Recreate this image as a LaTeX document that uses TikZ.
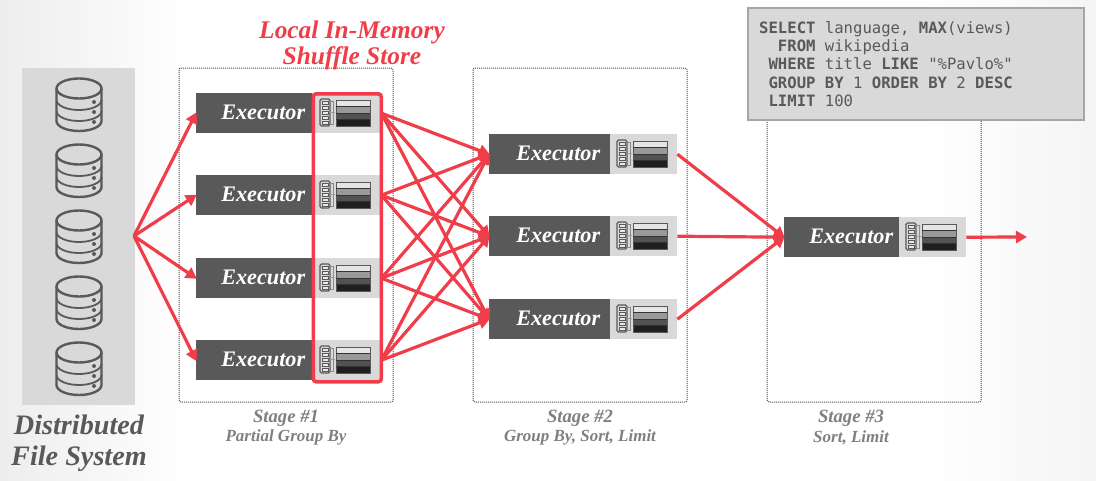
\documentclass[tikz,border=0pt]{standalone}
\usepackage{fontspec}
\setmainfont{Liberation Serif}
\setmonofont{DejaVu Sans Mono}
\usetikzlibrary{arrows.meta}
\definecolor{rd}{HTML}{EF3E4A}
\definecolor{dk}{HTML}{595959}
\definecolor{lt}{HTML}{D9D9D9}
\definecolor{stg}{HTML}{7F7F7F}
\tikzset{
  x=1pt,y=-1pt,
  execbox/.style={draw=none,fill=dk,text=white,minimum height=40pt,inner xsep=0pt,inner ysep=0pt,anchor=north west,
    font=\fontsize{22.2}{24}\selectfont\bfseries\itshape,align=left},
  storebox/.style={fill=lt,minimum height=40pt,minimum width=#1,inner sep=0pt,anchor=north west},
  flow/.style={draw=rd,line width=3.2pt,-{Triangle[length=11pt,width=12pt]},shorten >=-1pt},
  stagebox/.style={draw=black!70,line width=1pt,dash pattern=on 1pt off 1pt},
  stagetitle/.style={text=stg,font=\fontsize{18.7}{20}\selectfont\bfseries\itshape,inner sep=0pt},
  stagesub/.style={text=stg,font=\fontsize{17}{18}\selectfont\bfseries\itshape,inner sep=0pt},
  dbline/.style={draw=dk,line width=2.4pt},
  pics/dbicon/.style={code={
    \draw[dbline] (-22.5,-16.5) -- (-22.5,16) arc[start angle=180,end angle=360,x radius=22.5,y radius=-10] -- (22.5,-16.5);
    \draw[dbline] (0,-16.5) ellipse[x radius=22.5,y radius=10];
    \foreach \yy in {-5,6} {\draw[dbline,line width=1.8pt] (-22.5,\yy) arc[start angle=180,end angle=360,x radius=22.5,y radius=-10];}
    \foreach \yy in {-3,7,17} {\fill[dk] (15,\yy) circle[radius=2];}
  }},
  pics/storeicon/.style={code={
    \draw[dk,fill=lt,line width=1.2pt,rounded corners=1.5pt] (0,0) rectangle (10,27);
    \foreach \yy in {2,7,12,17,22} {\fill[lt!60!white] (1.9,\yy) rectangle (8.1,\yy+3.5); \draw[dk,line width=.5pt] (1.9,\yy) rectangle (8.1,\yy+3.5);}
    \draw[dk!70,line width=.8pt] (10,2) -- (13,2) -- (13,25) -- (10,25);
    \draw[dk!60,line width=.7pt] (10,13.5) -- (15,13.5);
    \fill[black!10] (16,1) rectangle (50,7.5);
    \fill[black!40] (16,7.5) rectangle (50,14);
    \fill[black!68] (16,14) rectangle (50,20.5);
    \fill[black!88] (16,20.5) rectangle (50,27);
    \draw[dk,line width=1pt] (16,1) rectangle (50,27);
    \foreach \yy in {7.5,14,20.5} {\draw[black!80,line width=.7pt] (16,\yy) -- (50,\yy);}
  }},
}
\newcommand{\extext}[1]{\raisebox{1pt}{\hbox to \linewidth{\hfill Executor\hspace*{#1pt}}}}
\begin{document}
\begin{tikzpicture}
\useasboundingbox (0,0) rectangle (1096,480);
% page tone
\shade[left color=black!7,right color=white,draw=none] (0,0) rectangle (190,480);
\shade[left color=white,right color=black!4,draw=none] (920,0) rectangle (1096,480);
% stages
\draw[stagebox,rounded corners=2pt] (179,68) rectangle (393,402);
\draw[stagebox,rounded corners=2pt] (473,68) rectangle (687,402);
\draw[stagebox,rounded corners=2pt] (767,68) rectangle (981,402);
% file system
\fill[lt] (22,68) rectangle (135,405);
\foreach \i/\yc in {1/105,2/171,3/237,4/303,5/369} {\pic (db\i) at (79,\yc) {dbicon};}
\coordinate (src) at (134,236);
% stage 1 rows
\foreach \i/\yt in {1/93,2/175,3/258,4/340} {
  \node[execbox,text width=116pt] (ea\i) at (196,\yt) {\extext{7}};
  \node[storebox=69pt] (sa\i) at (312,\yt) {};
  \pic at (320,\yt+6) {storeicon};
}
% stage 2 rows
\foreach \i/\yt in {1/134,2/216,3/299} {
  \node[execbox,text width=121pt] (eb\i) at (489,\yt) {\extext{10}};
  \node[storebox=67pt] (sb\i) at (610,\yt) {};
  \pic at (617,\yt+6) {storeicon};
}
% stage 3 row
\node[execbox,text width=115pt] (ec) at (784,217) {\extext{6}};
\node[storebox=67pt] (sc) at (899,217) {};
\pic at (906,223) {storeicon};
\coordinate (out) at (1026,237);
% connectors
\foreach \i in {1,2,3,4} {\draw[flow] (src) -- (ea\i.west);}
\foreach \i in {1,2,3,4} {\foreach \j in {1,2,3} {\draw[flow] (sa\i.east) -- (eb\j.west);}}
\foreach \j in {1,2,3} {\draw[flow] (sb\j.east) -- (ec.west);}
\draw[flow] (sc.east) -- (out);
% shuffle store outline
\node[draw=rd,line width=3.6pt,rounded corners=3pt,minimum width=68pt,minimum height=288pt,inner sep=0pt,anchor=north west] (shuffle) at (311.5,92) {};
% labels
\node[text=rd,font=\fontsize{25.4}{26}\selectfont\bfseries\itshape,align=center,inner sep=0pt] (title) at (352,45) {Local In-Memory\\Shuffle Store};
\node[text=dk,font=\fontsize{28.2}{31}\selectfont\bfseries\itshape,align=center,inner sep=0pt] (dfs) at (79,443) {Distributed\\File System};
\node[stagetitle] (t1) at (286,418) {Stage \#1};
\node[stagesub] (u1) at (286,437.5) {Partial Group By};
\node[stagetitle] (t2) at (580,418) {Stage \#2};
\node[stagesub] (u2) at (580,437.5) {Group By, Sort, Limit};
\node[stagetitle] (t3) at (851,418) {Stage \#3};
\node[stagesub] (u3) at (851,437.5) {Sort, Limit};
% SQL
\node[fill=lt,draw=black!35,line width=2pt,minimum width=336pt,minimum height=112pt,anchor=north west,inner sep=0pt] (sqlbox) at (747,7) {};
\node[anchor=west,inner sep=0pt,align=left,text=dk,font=\fontsize{15.6}{18.4}\selectfont\ttfamily] (sql) at (759,64)
{\textbf{SELECT} language, \textbf{MAX}(views)\\
\phantom{SE}\textbf{FROM} wikipedia\\
\phantom{S}\textbf{WHERE} title \textbf{LIKE} "\%Pavlo\%"\\
\phantom{S}\textbf{GROUP BY} 1 \textbf{ORDER BY} 2 \textbf{DESC}\\
\phantom{S}\textbf{LIMIT} 100};
\end{tikzpicture}
\end{document}
